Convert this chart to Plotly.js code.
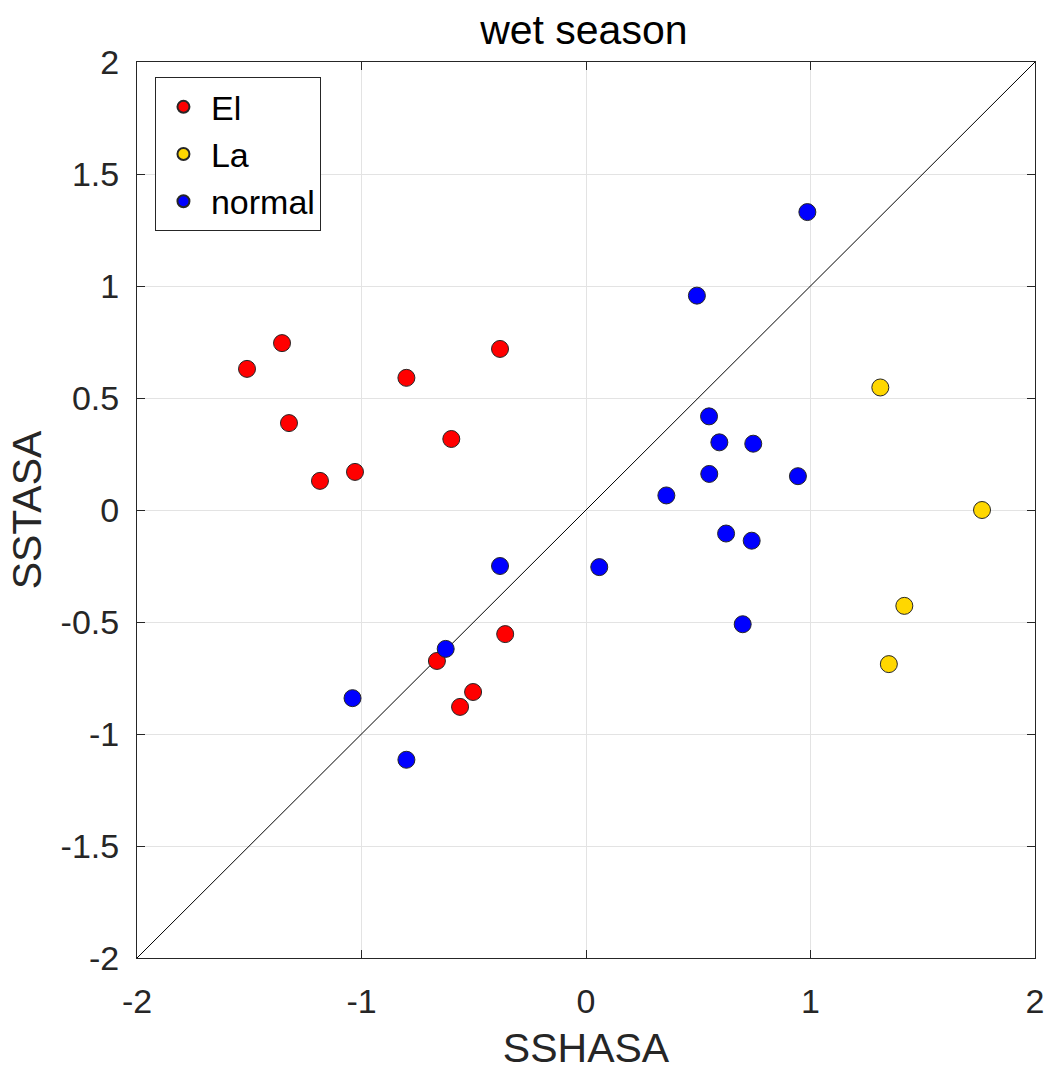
<!DOCTYPE html>
<html>
<head>
<meta charset="utf-8">
<script src="https://cdn.plot.ly/plotly-3.0.1.min.js"></script>
<style>html,body{margin:0;padding:0;background:#fff;}#chart{width:1051px;height:1071px;}</style>
</head>
<body>
<div id="chart"></div>
<script>
// El Niño years
const elX = [-1.51, -1.354, -1.323, -1.185, -1.029, -0.80, -0.60, -0.383, -0.36, -0.664, -0.503, -0.561];
const elY = [0.63, 0.745, 0.388, 0.13, 0.17, 0.59, 0.317, 0.719, -0.554, -0.674, -0.8125, -0.879];
// La Niña years
const laX = [1.311, 1.764, 1.418, 1.349];
const laY = [0.547, 0.0, -0.428, -0.688];
// normal years
const normX = [0.986, 0.494, 0.548, 0.594, 0.745, 0.549, 0.944, 0.358, 0.624, 0.738, -0.383, 0.059, 0.698, -0.625, -1.04, -0.80];
const normY = [1.33, 0.957, 0.418, 0.302, 0.296, 0.161, 0.151, 0.065, -0.105, -0.137, -0.25, -0.255, -0.51, -0.62, -0.84, -1.115];
// 1:1 reference line
const diagX = [-2, 2];
const diagY = [-2, 2];
// ticks
const yTickVals = [-2, -1.5, -1, -0.5, 0, 0.5, 1, 1.5, 2];
const yTickText = ['-2', '-1.5', '-1', '-0.5', '0', '0.5', '1', '1.5', '2'];
const xTickVals = [-2, -1, 0, 1, 2];
const xTickText = ['-2', '-1', '0', '1', '2'];

const font = 'Liberation Sans, Arial, Helvetica, sans-serif';
const mk = (c) => ({size: 17, color: c, line: {color: '#262626', width: 1}});

const traces = [
  {x: diagX, y: diagY, mode: 'lines', line: {color: '#000', width: 1}, showlegend: false, hoverinfo: 'skip'},
  {x: elX, y: elY, mode: 'markers', name: 'El', marker: mk('#ff0000')},
  {x: laX, y: laY, mode: 'markers', name: 'La', marker: mk('#ffd700')},
  {x: normX, y: normY, mode: 'markers', name: 'normal', marker: mk('#0000ff')}
];

const axisCommon = {
  range: [-2, 2],
  showgrid: true,
  gridcolor: '#e3e3e3',
  gridwidth: 1,
  zeroline: false,
  showline: true,
  linecolor: '#262626',
  linewidth: 1,
  mirror: 'ticks',
  ticks: 'inside',
  ticklen: 8,
  tickcolor: '#262626',
  tickmode: 'array',
  tickfont: {family: font, size: 34, color: '#262626'},
  automargin: false
};

const layout = {
  width: 1051,
  height: 1071,
  margin: {l: 137, r: 16, t: 62, b: 113},
  paper_bgcolor: '#fff',
  plot_bgcolor: '#fff',
  font: {family: font, color: '#262626'},
  title: {text: 'wet season', font: {family: font, size: 41, color: '#000'}, x: 0.5555, xanchor: 'center', yref: 'container', y: 0.972, yanchor: 'middle'},
  xaxis: Object.assign({}, axisCommon, {
    tickvals: xTickVals,
    ticktext: xTickText,
    ticklabelstandoff: 13,
    title: {text: 'SSHASA', font: {family: font, size: 41, color: '#262626'}, standoff: 24}
  }),
  yaxis: Object.assign({}, axisCommon, {
    tickvals: yTickVals,
    ticktext: yTickText,
    ticklabelstandoff: 10,
    title: {text: 'SSTASA', font: {family: font, size: 41, color: '#262626'}, standoff: 6}
  }),
  legend: {
    x: 0.02, y: 0.983, xanchor: 'left', yanchor: 'top',
    bgcolor: '#fff', bordercolor: '#262626', borderwidth: 1,
    font: {family: font, size: 34, color: '#000'},
    itemsizing: 'constant',
    itemwidth: 45,
    tracegroupgap: 0
  },
  showlegend: true
};

Plotly.newPlot('chart', traces, layout, {staticPlot: true, displayModeBar: false});
</script>
</body>
</html>
